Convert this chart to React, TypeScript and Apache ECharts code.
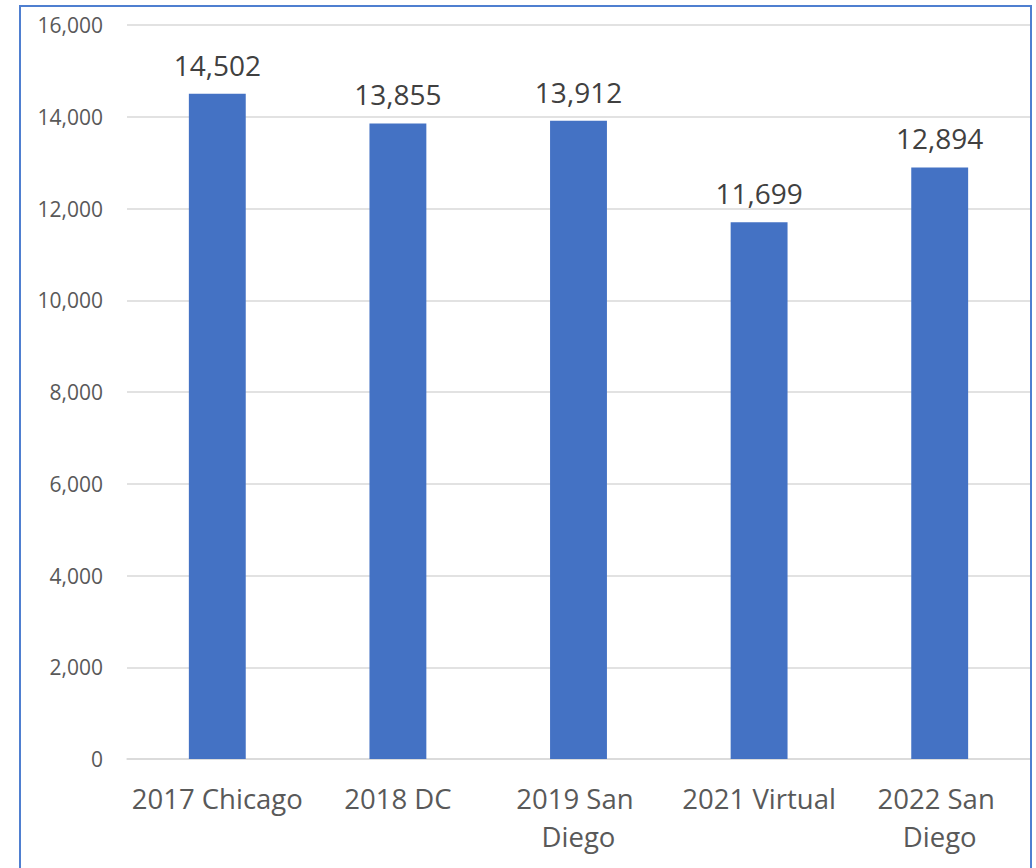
import React, { useEffect, useRef } from "react";
import * as echarts from "echarts";

const categories = ["2017 Chicago", "2018 DC", "2019 San Diego", "2021 Virtual", "2022 San Diego"];
const attendees = [14502, 13855, 13912, 11699, 12894];
const yTicks = { min: 0, max: 16000, interval: 2000 };

const FONT = "'Open Sans', 'Noto Sans', sans-serif";

export default function App() {
  const ref = useRef<HTMLDivElement>(null);
  useEffect(() => {
    if (!ref.current) return;
    const chart = echarts.init(ref.current, undefined, { renderer: "svg" });
    chart.setOption({
      animation: false,
      backgroundColor: "#ffffff",
      textStyle: { fontFamily: FONT },
      grid: { left: 127, right: 6, top: 25, bottom: 109, containLabel: false },
      graphic: [
        {
          type: "rect",
          shape: { x: 20, y: 6, width: 1011, height: 900 },
          style: { fill: "none", stroke: "#4f7fd0", lineWidth: 2 },
          silent: true,
          z: 100,
        },
      ],
      xAxis: {
        type: "category",
        data: categories,
        axisLine: { show: true, lineStyle: { color: "#d9d9d9", width: 1.5 } },
        axisTick: { show: false },
        axisLabel: {
          color: "#595959",
          fontSize: 27.5,
          fontFamily: FONT,
          margin: 20,
          lineHeight: 38,
          interval: 0,
          width: 178,
          overflow: "break",
        },
      },
      yAxis: {
        type: "value",
        min: yTicks.min,
        max: yTicks.max,
        interval: yTicks.interval,
        axisLine: { show: false },
        axisTick: { show: false },
        splitLine: { lineStyle: { color: "#d9d9d9", width: 1.5 } },
        axisLabel: {
          color: "#595959",
          fontSize: 21,
          fontFamily: FONT,
          margin: 24,
          formatter: (v: number) => v.toLocaleString("en-US"),
        },
      },
      series: [
        {
          type: "bar",
          data: attendees,
          barWidth: "31.5%",
          itemStyle: { color: "#4472c4" },
          label: {
            show: true,
            position: "top",
            distance: 15,
            color: "#404040",
            fontSize: 28,
            fontFamily: FONT,
            formatter: (p: any) => Number(p.value).toLocaleString("en-US"),
          },
        },
      ],
    });
    return () => chart.dispose();
  }, []);
  return (
    <div
      ref={ref}
      style={{ position: "absolute", left: 0, top: 0, width: 1036, height: 868 }}
    />
  );
}
